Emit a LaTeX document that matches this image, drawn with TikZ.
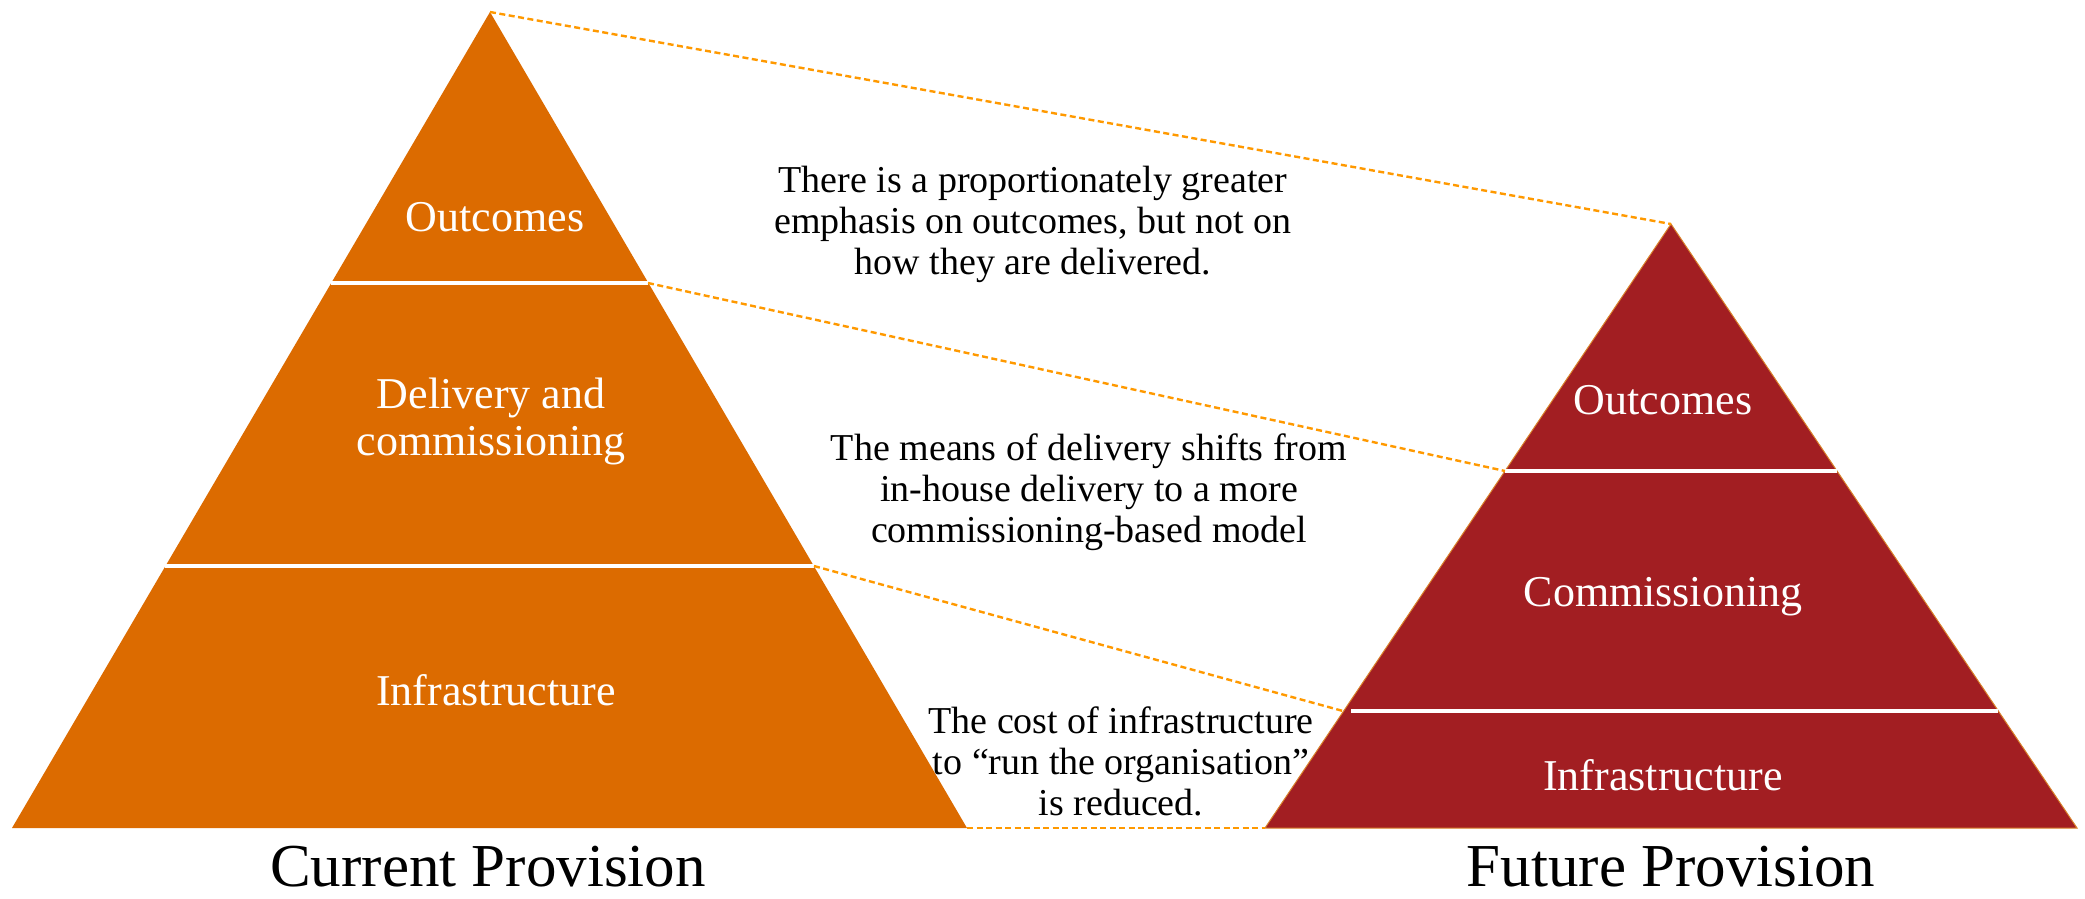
\documentclass[tikz,border=0pt]{standalone}
\usepackage{fontspec}
\setmainfont{Liberation Serif}
\definecolor{curfill}{HTML}{DC6B00}
\definecolor{futfill}{HTML}{A21E22}
\definecolor{futedge}{HTML}{D9822B}
\definecolor{linkline}{HTML}{FF9900}
\begin{document}
\begin{tikzpicture}[x=1pt,y=-1pt,
  link/.style={draw=linkline, dash pattern=on 6pt off 3.5pt, line width=2.4pt},
  divider/.style={draw=white, line width=4pt},
  tierlabel/.style={text=white, font=\fontsize{44}{47}\selectfont, align=center, inner sep=0pt},
  note/.style={text=black, font=\fontsize{38}{41}\selectfont, align=center, inner sep=0pt},
  caption/.style={text=black, font=\fontsize{61}{68}\selectfont, inner sep=0pt, anchor=base, text depth=0pt}]
\useasboundingbox (0,0) rectangle (2085,898);

% current provision pyramid
\coordinate (LA) at (490,12);
\coordinate (LL) at (12,828);
\coordinate (LR) at (967,828);
\coordinate (L1L) at (331,283);
\coordinate (L1R) at (648,283);
\coordinate (L2L) at (165,566);
\coordinate (L2R) at (814,566);
\fill[curfill] (LA) -- (LL) -- (LR) -- cycle;
\draw[divider] (L1L) -- (L1R);
\draw[divider] (L2L) -- (L2R);

% future provision pyramid
\coordinate (RA) at (1671,224);
\coordinate (RL) at (1265,828);
\coordinate (RR) at (2077,828);
\coordinate (R1L) at (1505,471);
\coordinate (R1R) at (1837,471);
\coordinate (R2E) at (1343,711);
\coordinate (R2L) at (1351,711);
\coordinate (R2R) at (1998,711);
\fill[futfill, draw=futedge, line width=1pt] (RA) -- (RL) -- (RR) -- cycle;
\draw[divider] (R1L) -- (R1R);
\draw[divider] (R2L) -- (R2R);

% links between tiers
\draw[link] (LA) -- (RA);
\draw[link] (L1R) -- (R1L);
\draw[link] (L2R) -- (R2E);
\draw[link] (LR) -- (RL);

% tier labels
\node[tierlabel] (lout) at (495,217) {Outcomes};
\node[tierlabel] (ldel) at (491,421) {Delivery and\\commissioning};
\node[tierlabel] (linf) at (496,690) {Infrastructure};
\node[tierlabel] (rout) at (1663,400) {Outcomes};
\node[tierlabel] (rcom) at (1663,597) {Commissioning};
\node[tierlabel] (rinf) at (1663,775) {Infrastructure};

% notes
\node[note] (n1) at (1033,224) {There is a proportionately greater\\emphasis on outcomes, but not on\\how they are delivered.};
\node[note] (n2) at (1089,492) {The means of delivery shifts from\\in-house delivery to a more\\commissioning-based model};
\node[note] (n3) at (1121,761) {The cost of infrastructure\\to “run the organisation”\\is reduced.};

% captions
\node[caption] (cur) at (488,886) {Current Provision};
\node[caption] (fut) at (1671,886) {Future Provision};
\end{tikzpicture}
\end{document}
